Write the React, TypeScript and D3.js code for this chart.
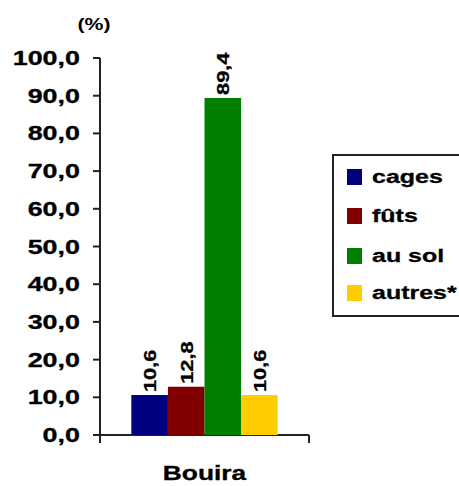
import * as d3 from 'd3';

const categories = ['Bouira'];
const seriesNames = ['cages', 'fûts', 'au sol', 'autres*'];
const seriesValues = [10.6, 12.8, 89.4, 10.6];
const seriesColors = ['#000080', '#800000', '#008000', '#FFCC00'];
const yTicks = [0, 10, 20, 30, 40, 50, 60, 70, 80, 90, 100];

const font = '"Liberation Sans", Arial, sans-serif';
const fmt = (v: number) => d3.format('.1f')(v).replace('.', ',');

export default function App() {
  const width = 459;
  const height = 486;
  const axisX = 100;
  const axisRight = 309;

  const y = d3.scaleLinear().domain([0, 100]).range([435, 58]);
  const x0 = d3.scaleBand<string>()
    .domain(categories)
    .range([axisX, axisRight])
    .paddingInner(0.3)
    .paddingOuter(0.15);
  const x1 = d3.scaleBand<string>()
    .domain(seriesNames)
    .range([0, x0.bandwidth()]);

  const legend = { x: 333, y: 155, w: 140, h: 161 };
  const legendRows = [177, 216, 256, 293];

  return (
    <svg width={width} height={height} style={{ position: 'absolute', left: 0, top: 0 }}>
      <rect width={width} height={height} fill="#fff" />

      {/* unit label */}
      <text
        transform="translate(94,30) scale(1.25,1)"
        textAnchor="middle"
        fontFamily={font}
        fontWeight="bold"
        fontSize={17}
      >
        (%)
      </text>

      {/* y axis */}
      <line x1={axisX} x2={axisX} y1={y(100)} y2={y(0) + 8} stroke="#222" strokeWidth={2} />
      {yTicks.map((t) => (
        <g key={t}>
          <line x1={axisX - 7} x2={axisX} y1={y(t)} y2={y(t)} stroke="#222" strokeWidth={2} />
          <text
            transform={`translate(80,${y(t) + 7}) scale(1.38,1)`}
            textAnchor="end"
            fontFamily={font}
            fontWeight="bold"
            fontSize={19.5}
            stroke="#000"
            strokeWidth={0.3}
            fill="#000"
          >
            {fmt(t)}
          </text>
        </g>
      ))}

      {/* x axis */}
      <line x1={axisX} x2={axisRight} y1={y(0)} y2={y(0)} stroke="#222" strokeWidth={2} />
      <line x1={axisRight} x2={axisRight} y1={y(0)} y2={y(0) + 8} stroke="#222" strokeWidth={2} />

      {/* bars */}
      {categories.map((c) => (
        <g key={c} transform={`translate(${x0(c)},0)`}>
          {seriesNames.map((s, i) => {
            const v = seriesValues[i];
            const bx = x1(s)!;
            const bw = x1.bandwidth();
            return (
              <g key={s}>
                <rect x={bx} y={y(v)} width={bw} height={y(0) - y(v)} fill={seriesColors[i]} />
                <text
                  transform={`translate(${bx + bw / 2 + 1},${y(v) - 3}) rotate(-90) scale(1.32,1)`}
                  dominantBaseline="central"
                  fontFamily={font}
                  fontWeight="bold"
                  fontSize={16.5}
                  stroke="#000"
                  strokeWidth={0.3}
                  fill="#000"
                >
                  {fmt(v)}
                </text>
              </g>
            );
          })}
          <text
            transform={`translate(${x0.bandwidth() / 2},480) scale(1.35,1)`}
            textAnchor="middle"
            fontFamily={font}
            fontWeight="bold"
            fontSize={19.5}
            stroke="#000"
            strokeWidth={0.3}
            fill="#000"
          >
            {c}
          </text>
        </g>
      ))}

      {/* legend */}
      <rect
        x={legend.x}
        y={legend.y}
        width={legend.w}
        height={legend.h}
        fill="#fff"
        stroke="#222"
        strokeWidth={2}
      />
      {seriesNames.map((s, i) => (
        <g key={s}>
          <rect x={347} y={legendRows[i] - 8} width={15} height={16} fill={seriesColors[i]} />
          <text
            transform={`translate(372,${legendRows[i] + 6}) scale(1.35,1)`}
            fontFamily={font}
            fontWeight="bold"
            fontSize={18.5}
            stroke="#000"
            strokeWidth={0.3}
            fill="#000"
          >
            {s}
          </text>
        </g>
      ))}
    </svg>
  );
}
